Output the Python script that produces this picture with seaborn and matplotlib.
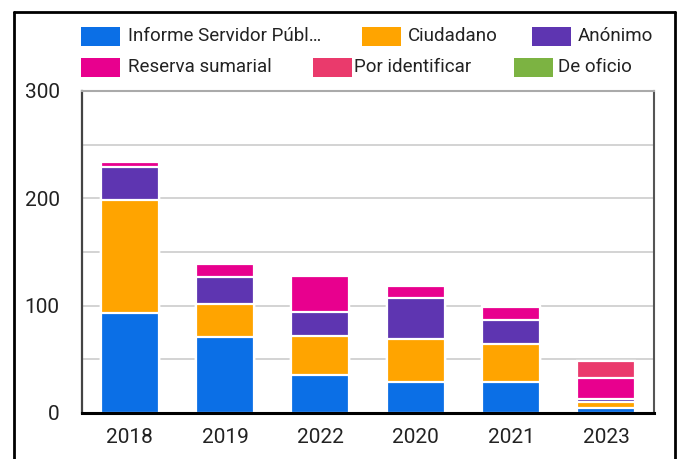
import pandas as pd
import matplotlib.pyplot as plt
import seaborn as sns
from matplotlib.patches import Rectangle
from matplotlib.lines import Line2D
from matplotlib.ticker import MultipleLocator

################################################
# Data
################################################

years = ["2018", "2019", "2022", "2020", "2021", "2023"]

informe = [93, 71, 35, 29, 29, 5]
ciudadano = [105, 31, 37, 40, 35, 5]
anonimo = [31, 25, 22, 38, 23, 3]
reserva = [5, 12, 34, 11, 12, 20]
por_identificar = [0, 0, 0, 0, 0, 15]
de_oficio = [0, 0, 0, 1, 1, 0]

series_names = ["Informe Servidor Públ…", "Ciudadano", "Anónimo",
                "Reserva sumarial", "Por identificar", "De oficio"]
series_values = [informe, ciudadano, anonimo, reserva, por_identificar, de_oficio]
colors = ["#0b6fe6", "#ffa400", "#5e35b1", "#e8008e", "#ea3a6c", "#7cb342"]

df = pd.DataFrame(dict(zip(series_names, series_values)), index=years)
cum = df.cumsum(axis=1)

################################################
# Figure
################################################

sns.set_style("white")
plt.rcParams["font.family"] = ["Roboto", "DejaVu Sans"]

W, H = 679, 459
fig = plt.figure(figsize=(W / 100, H / 100), dpi=100)
ax = fig.add_axes([82 / W, 1 - 413 / H, (654 - 82) / W, (413 - 91) / H])

# stacked bars: draw cumulative totals from the top series down
for name, color in reversed(list(zip(series_names, colors))):
    sns.barplot(x=years, y=cum[name].values, order=years, color=color,
                width=0.61, edgecolor="white", linewidth=1.6,
                saturation=1, ax=ax, zorder=2)

ax.set_ylim(0, 300)
ax.yaxis.set_major_locator(MultipleLocator(100))
ax.yaxis.set_minor_locator(MultipleLocator(50))
ax.grid(axis="y", which="both", color="#cccccc", linewidth=1.2, zorder=0)
ax.set_axisbelow(True)
ax.tick_params(axis="y", which="both", length=0, pad=16, labelsize=15, labelcolor="#222222")
ax.tick_params(axis="x", length=0, pad=11, labelsize=15, labelcolor="#222222")
ax.set_xlabel("")
ax.set_ylabel("")

ax.spines["bottom"].set_color("black")
ax.spines["bottom"].set_linewidth(2.2)
ax.spines["left"].set_color("#444444")
ax.spines["left"].set_linewidth(1.6)
ax.spines["top"].set_color("#aaaaaa")
ax.spines["top"].set_linewidth(1.5)
ax.spines["right"].set_color("#555555")
ax.spines["right"].set_linewidth(1.5)
for s in ax.spines.values():
    s.set_zorder(5)

################################################
# Legend (two rows, laid out like the original)
################################################

def fx(x):
    return x / W

def fy(y):
    return 1 - y / H

legend_rows = [
    [(0, 81, 128), (1, 362, 408), (2, 532, 578)],
    [(3, 81, 128), (4, 313, 354), (5, 514, 558)],
]
row_centers = [36, 67]
for row, yc in zip(legend_rows, row_centers):
    for i, px, tx in row:
        fig.add_artist(Rectangle((fx(px), fy(yc + 9.5)), 39 / W, 19 / H,
                                 transform=fig.transFigure,
                                 facecolor=colors[i], edgecolor="none"))
        fig.text(fx(tx), fy(yc), series_names[i], fontsize=13.5,
                 color="#222222", ha="left", va="center")

# outer frame of the screenshot
frame = dict(color="black", linewidth=2, transform=fig.transFigure)
fig.add_artist(Line2D([fx(14), fx(14)], [0, fy(12)], **frame))
fig.add_artist(Line2D([fx(14), fx(675)], [fy(12), fy(12)], **frame))
fig.add_artist(Line2D([fx(675), fx(675)], [0, fy(12)], **frame))

plt.savefig("out.png", dpi=100)
